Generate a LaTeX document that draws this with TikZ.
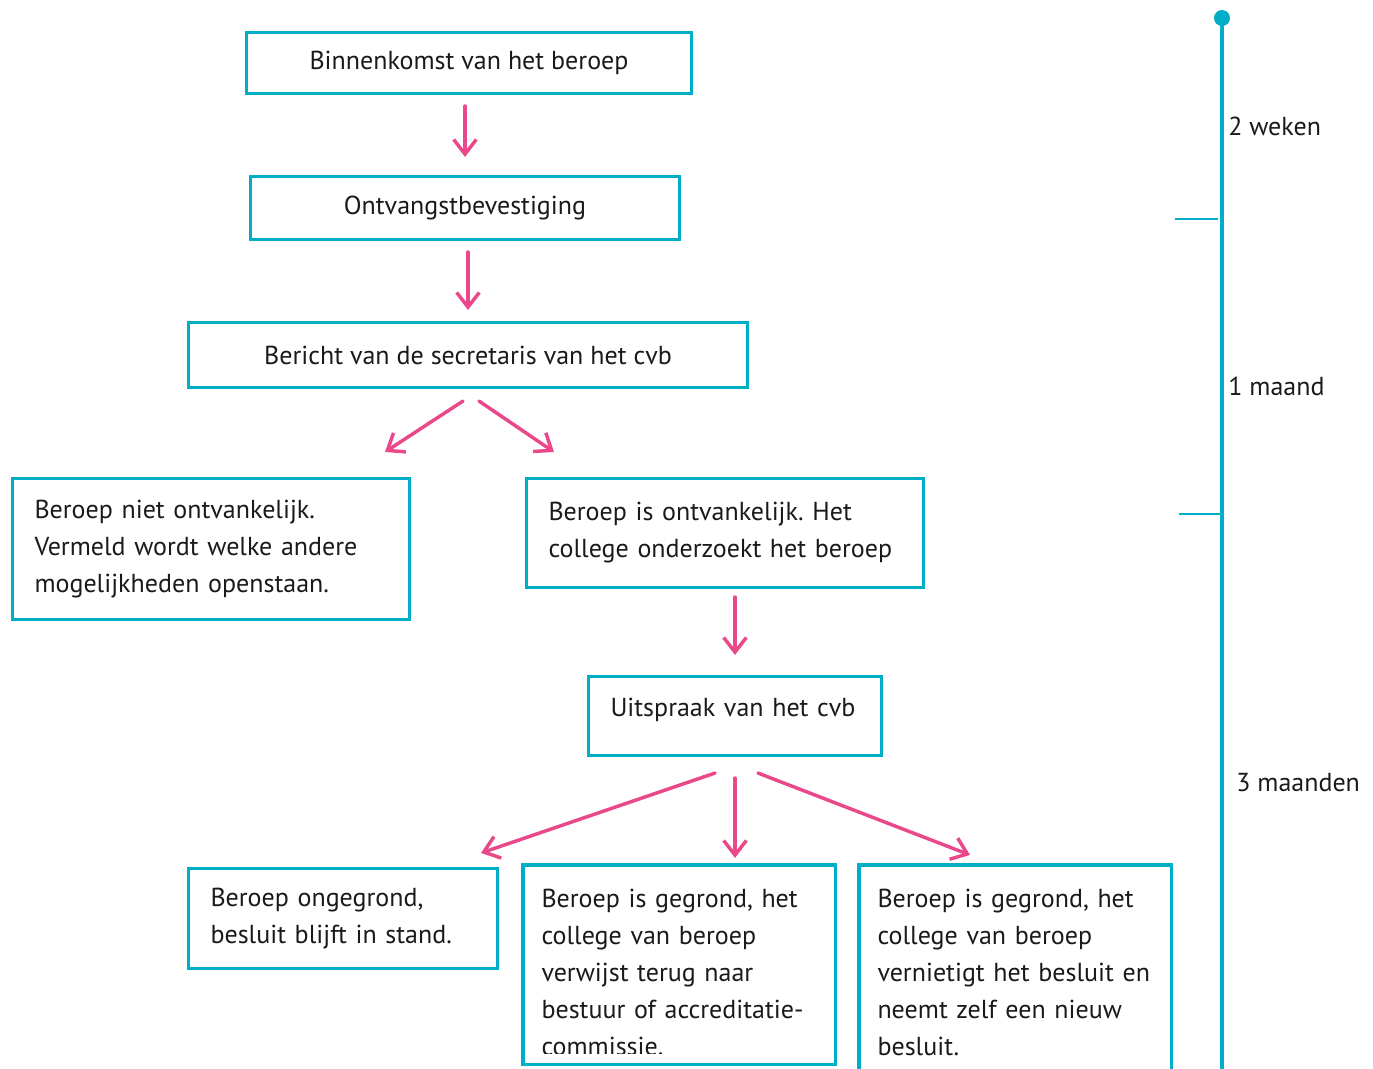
\documentclass[tikz,border=0pt]{standalone}
\usepackage{fontspec}
\setmainfont{PT Sans}
\usetikzlibrary{calc,arrows.meta}
\definecolor{bvCyan}{HTML}{00AEC7}
\definecolor{bvPink}{HTML}{E9488A}
\definecolor{bvText}{HTML}{1A1A1A}
\newcommand\boxfont{\fontsize{19.5}{27.75}\selectfont\frenchspacing}

\begin{document}
\begin{tikzpicture}[x=0.75pt, y=-0.75pt,
  box/.style={draw=bvCyan, line width=2.3pt, text=bvText, font=\boxfont,
    inner sep=0pt, align=center},
  txtbox/.style={box, align=left},
  frame/.style={draw=bvCyan, line width=2.3pt},
  arr/.style={-{Straight Barb[length=11pt, width=17pt]}, line width=2.6pt,
    draw=bvPink, line cap=round},
  tline/.style={draw=bvCyan, line width=2.3pt},
  tick/.style={draw=bvCyan, line width=1.5pt},
  tlbl/.style={font=\boxfont, text=bvText, anchor=west, inner sep=0pt}
]
  \clip (0,0) rectangle (1373,1068);
  % Main flow
  \node[box, minimum width=445*0.75pt, minimum height=61*0.75pt] (b1) at (469,63)
    {Binnenkomst van het beroep};
  \node[box, minimum width=429*0.75pt, minimum height=63*0.75pt] (b2) at (465,208)
    {Ontvangstbevestiging};
  \node[box, minimum width=559*0.75pt, minimum height=65*0.75pt] (b3) at (468,355)
    {Bericht van de secretaris van het cvb};
  % First split
  \node[txtbox, minimum width=397*0.75pt, minimum height=141*0.75pt,
    text width=353*0.75pt] (b4) at (211,549)
    {Beroep niet ontvankelijk.\\ Vermeld wordt welke andere\\ mogelijkheden openstaan.};
  \node[txtbox, minimum width=397*0.75pt, minimum height=109*0.75pt,
    text width=353*0.75pt] (b5) at (725,533)
    {Beroep is ontvankelijk. Het\\ college onderzoekt het beroep};
  \node[txtbox, minimum width=293*0.75pt, minimum height=79*0.75pt,
    text width=249*0.75pt, text depth=13.5pt] (b6) at (735,716)
    {Uitspraak van het cvb};
  % Outcomes
  \node[txtbox, minimum width=309*0.75pt, minimum height=100*0.75pt,
    text width=265*0.75pt] (b7) at (343,918.5)
    {Beroep ongegrond,\\ besluit blijft in stand.};
  \begin{scope}
    \clip (520,860) rectangle (840,1053);
    \node[txtbox, draw=none, minimum width=309*0.75pt, minimum height=196*0.75pt,
      text width=275*0.75pt, text height=25pt] (b8) at (679,964.5)
      {Beroep is gegrond, het\\ college van beroep\\ verwijst terug naar\\
       bestuur of accreditatie-\\ commissie.};
  \end{scope}
  \draw[frame] (b8.south west) rectangle (b8.north east);
  \node[txtbox, draw=none, minimum width=309*0.75pt, minimum height=196*0.75pt,
    text width=275*0.75pt, text height=25pt] (b9) at (1015,964.5)
    {Beroep is gegrond, het\\ college van beroep\\ vernietigt het besluit en\\
     neemt zelf een nieuw\\ besluit.};
  \draw[frame] ([yshift=-30pt]b9.south west) -- (b9.north west)
    -- (b9.north east) -- ([yshift=-30pt]b9.south east);
  % Arrows
  \draw[arr] ($(b1.south -| b2.north)+(0,11)$) -- ($(b2.north)+(0,-18)$);
  \draw[arr] ($(b2.south -| b3.north)+(0,11)$) -- ($(b3.north)+(0,-11)$);
  \draw[arr] ($(b3.south)+(-5,12)$) -- ($(b4.north east)+(-26,-25)$);
  \draw[arr] ($(b3.south)+(11,12)$) -- ($(b5.north west)+(29,-25)$);
  \draw[arr] ($(b5.south -| b6.north)+(0,8)$) -- ($(b6.north)+(0,-20)$);
  \draw[arr] ($(b6.south)+(-20,16)$) -- ($(b7.north east)+(-18,-14)$);
  \draw[arr] ($(b6.south)+(0,21)$) -- ($(b6.south |- b8.north)+(0,-7)$);
  \draw[arr] ($(b6.south)+(23,16)$) -- ($(b9.north)+(-45,-10)$);
  % Timeline
  \draw[tline] (1222,18) -- (1222,1080);
  \fill[bvCyan] (1222,18) circle (6pt);
  \draw[tick] (1175,219) -- (1218,219);
  \draw[tick] (1179,514) -- (1222,514);
  \node[tlbl] (t1) at (1228,126) {2 weken};
  \node[tlbl] (t2) at (1228,386) {1 maand};
  \node[tlbl] (t3) at (1236,783) {3 maanden};
\end{tikzpicture}
\end{document}
